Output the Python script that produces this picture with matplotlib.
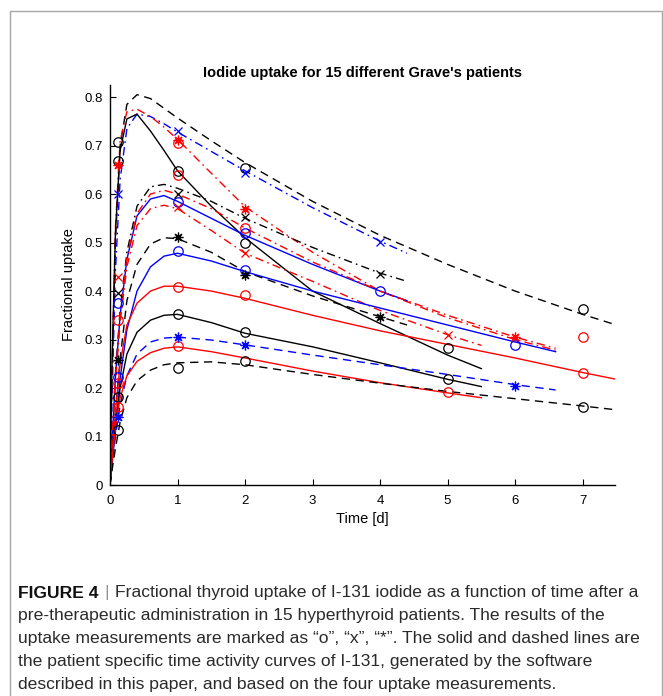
import matplotlib.pyplot as plt
from matplotlib.patches import Rectangle

# ---------- DATA ----------
# time grids for the fitted curves (curves stop at 1.1 x last measurement)
T_RISE = [0, 0.03, 0.08, 0.15, 0.25, 0.4, 0.6, 0.8, 1.0, 1.5, 2.0, 3.0, 4.0]
T44 = T_RISE + [4.4]
T55 = T_RISE + [5.0, 5.5]
T66 = T_RISE + [5.0, 6.0, 6.6]
T75 = T_RISE + [5.0, 6.0, 7.0, 7.5]

# fitted uptake curves, one per patient
K_DASH_TOP = [0, 0.22, 0.50, 0.70, 0.785, 0.805, 0.797, 0.777, 0.757, 0.71, 0.665, 0.585, 0.515, 0.455, 0.40, 0.352, 0.33]
B_DASHDOT_TOP = [0, 0.18, 0.44, 0.63, 0.735, 0.765, 0.76, 0.745, 0.728, 0.688, 0.648, 0.572, 0.503, 0.478]
R_DASHDOT_TOP = [0, 0.24, 0.53, 0.71, 0.77, 0.775, 0.76, 0.738, 0.713, 0.643, 0.574, 0.48, 0.40, 0.345, 0.30, 0.278]
K_SOLID_TOP = [0, 0.25, 0.52, 0.69, 0.755, 0.765, 0.73, 0.69, 0.648, 0.575, 0.51, 0.40, 0.333, 0.268, 0.24]
K_DASHDOT = [0, 0.10, 0.23, 0.36, 0.48, 0.575, 0.615, 0.62, 0.612, 0.585, 0.55, 0.49, 0.437, 0.42]
B_SOLID_HI = [0, 0.09, 0.22, 0.35, 0.465, 0.555, 0.59, 0.597, 0.585, 0.55, 0.515, 0.455, 0.40, 0.38]
R_DASHDOT_MID = [0, 0.09, 0.22, 0.35, 0.47, 0.56, 0.60, 0.608, 0.60, 0.57, 0.53, 0.46, 0.40, 0.35, 0.305, 0.282]
R_DASHDOT_LOW = [0, 0.085, 0.21, 0.335, 0.45, 0.535, 0.57, 0.577, 0.57, 0.525, 0.478, 0.42, 0.36, 0.31, 0.288]
K_DASH_MID = [0, 0.06, 0.15, 0.26, 0.38, 0.455, 0.497, 0.51, 0.508, 0.48, 0.44, 0.39, 0.347, 0.33]
B_SOLID_LO = [0, 0.045, 0.11, 0.22, 0.32, 0.40, 0.45, 0.472, 0.478, 0.462, 0.44, 0.40, 0.365, 0.33, 0.295, 0.275]
R_SOLID_HI = [0, 0.06, 0.15, 0.25, 0.33, 0.375, 0.40, 0.41, 0.41, 0.40, 0.385, 0.35, 0.318, 0.29, 0.262, 0.232, 0.218]
K_SOLID_LO = [0, 0.05, 0.12, 0.20, 0.27, 0.315, 0.34, 0.35, 0.352, 0.335, 0.313, 0.285, 0.252, 0.218, 0.203]
B_DASH = [0, 0.04, 0.10, 0.165, 0.225, 0.27, 0.295, 0.303, 0.305, 0.299, 0.289, 0.268, 0.248, 0.228, 0.207, 0.196]
R_SOLID_LO = [0, 0.05, 0.12, 0.18, 0.225, 0.255, 0.273, 0.282, 0.285, 0.275, 0.262, 0.235, 0.211, 0.19, 0.18]
K_DASH_LOW = [0, 0.03, 0.075, 0.13, 0.18, 0.215, 0.237, 0.248, 0.252, 0.254, 0.248, 0.228, 0.21, 0.193, 0.178, 0.163, 0.155]

# measured uptake values (time [d], fraction)
K_O_T = [0.125, 0.125, 0.125, 0.125, 1, 1, 1, 2, 2, 2, 2, 5, 5, 7, 7]
K_O_V = [0.708, 0.669, 0.182, 0.113, 0.648, 0.352, 0.241, 0.653, 0.50, 0.315, 0.256, 0.282, 0.218, 0.364, 0.161]
R_O_T = [0.125, 0.125, 0.125, 1, 1, 1, 1, 2, 2, 5, 7, 7]
R_O_V = [0.34, 0.21, 0.161, 0.705, 0.639, 0.408, 0.287, 0.531, 0.392, 0.191, 0.305, 0.23]
B_O_T = [0.125, 0.125, 1, 1, 2, 2, 4, 6]
B_O_V = [0.375, 0.223, 0.584, 0.482, 0.52, 0.443, 0.40, 0.289]
K_X_T = [0.125, 1, 2, 4]
K_X_V = [0.395, 0.60, 0.553, 0.436]
R_X_T = [0.125, 1, 2, 5]
R_X_V = [0.43, 0.574, 0.478, 0.309]
B_X_T = [0.125, 1, 2, 4]
B_X_V = [0.60, 0.730, 0.644, 0.502]
K_S_T = [0.125, 1, 2, 4]
K_S_V = [0.258, 0.512, 0.433, 0.347]
R_S_T = [0.125, 1, 2, 6]
R_S_V = [0.66, 0.711, 0.570, 0.305]
B_S_T = [0.125, 1, 2, 6]
B_S_V = [0.141, 0.306, 0.289, 0.205]

Y_TICKS = [0, 0.1, 0.2, 0.3, 0.4, 0.5, 0.6, 0.7, 0.8]
Y_TICK_LABELS = ['0', '0.1', '0.2', '0.3', '0.4', '0.5', '0.6', '0.7', '0.8']
X_TICKS = [0, 1, 2, 3, 4, 5, 6, 7]

CAPTION_HEAD = "FIGURE 4"
CAPTION = [
    "Fractional thyroid uptake of I-131 iodide as a function of time after a",
    "pre-therapeutic administration in 15 hyperthyroid patients. The results of the",
    "uptake measurements are marked as \u201co\u201d, \u201cx\u201d, \u201c*\u201d. The solid and dashed lines are",
    "the patient specific time activity curves of I-131, generated by the software",
    "described in this paper, and based on the four uptake measurements.",
]

# ---------- STYLE ----------
plt.rcParams['font.family'] = ['Liberation Sans', 'DejaVu Sans']
DASH = (0, (6, 4))
DASHDOT = (0, (6, 3, 1.2, 3))
K, R, B = 'black', '#ff0000', '#0000ff'

curves = [
    (T75, K_DASH_TOP, K, DASH),
    (T44, B_DASHDOT_TOP, B, DASHDOT),
    (T66, R_DASHDOT_TOP, R, DASHDOT),
    (T55, K_SOLID_TOP, K, '-'),
    (T44, K_DASHDOT, K, DASHDOT),
    (T44, B_SOLID_HI, B, '-'),
    (T66, R_DASHDOT_MID, R, DASHDOT),
    (T55, R_DASHDOT_LOW, R, DASHDOT),
    (T44, K_DASH_MID, K, DASH),
    (T66, B_SOLID_LO, B, '-'),
    (T75, R_SOLID_HI, R, '-'),
    (T55, K_SOLID_LO, K, '-'),
    (T66, B_DASH, B, DASH),
    (T55, R_SOLID_LO, R, '-'),
    (T75, K_DASH_LOW, K, DASH),
]

# ---------- PLOTTING ----------
fig = plt.figure(figsize=(6.63, 6.96), dpi=100)
ax = fig.add_axes([110 / 663, 1 - 485 / 696, 505 / 663, 400 / 696])

for t, v, c, ls in curves:
    ax.plot(t, v, color=c, linestyle=ls, linewidth=1.0)

ASTER = (8, 2, 0)
for t, v, c in [(K_O_T, K_O_V, K), (R_O_T, R_O_V, R), (B_O_T, B_O_V, B)]:
    ax.plot(t, v, 'o', mfc='none', mec=c, ms=6.8, mew=0.9)
for t, v, c in [(K_X_T, K_X_V, K), (R_X_T, R_X_V, R), (B_X_T, B_X_V, B)]:
    ax.plot(t, v, 'x', color=c, ms=5.5, mew=0.9)
for t, v, c in [(K_S_T, K_S_V, K), (R_S_T, R_S_V, R), (B_S_T, B_S_V, B)]:
    ax.plot(t, v, linestyle='none', marker=ASTER, color=c, ms=7, mew=0.9)

ax.set_xlim(0, 7.48)
ax.set_ylim(0, 0.825)
ax.set_xticks(X_TICKS)
ax.set_yticks(Y_TICKS)
ax.set_yticklabels(Y_TICK_LABELS)
ax.tick_params(direction='in', length=4, width=0.8, labelsize=9.5)
ax.tick_params(axis='x', pad=7)
ax.tick_params(axis='y', pad=5)
for s in ['top', 'right']:
    ax.spines[s].set_visible(False)
for s in ['left', 'bottom']:
    ax.spines[s].set_linewidth(1.0)
ax.set_xlabel("Time [d]", fontsize=10.5, labelpad=4)
ax.set_ylabel("Fractional uptake", fontsize=10.5, labelpad=6)
ax.set_title("Iodide uptake for 15 different Grave's patients", fontsize=10.5,
             fontweight='bold', pad=6)

# frame around the figure panel
fig.patches.append(Rectangle((10 / 663, -0.05), 652 / 663, 1.05 - 11 / 696,
                             transform=fig.transFigure, fill=False,
                             edgecolor='#a6a6a6', linewidth=1.0))

# caption
cap_size = 12.6
y0 = 1 - 593 / 696
dy = 22.8 / 696
renderer = fig.canvas.get_renderer()
head = fig.text(18 / 663, y0, CAPTION_HEAD, fontsize=cap_size, fontweight='bold',
                va='center', color='#111111')
x_end = head.get_window_extent(renderer).x1
bar = fig.text((x_end + 6) / 663, y0, "|", fontsize=cap_size, color='#909090',
               va='center')
x_first = bar.get_window_extent(renderer).x1 + 6
for i, line in enumerate(CAPTION):
    x = x_first / 663 if i == 0 else 18 / 663
    fig.text(x, y0 - i * dy, line, fontsize=cap_size, va='center', color='#2a2a2a')

fig.savefig("out.png", dpi=100)
